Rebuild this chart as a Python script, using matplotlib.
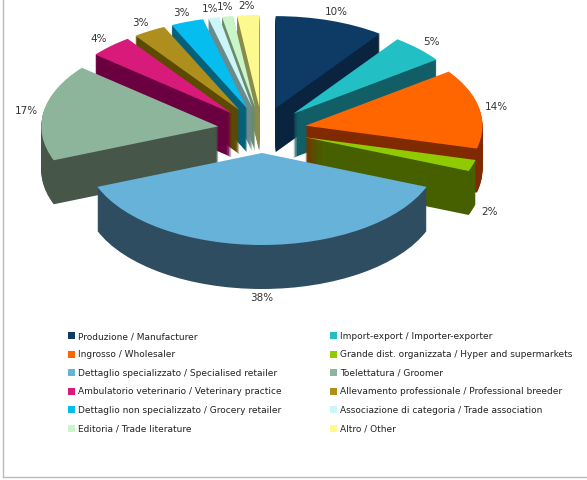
import matplotlib
matplotlib.use('Agg')
import matplotlib.pyplot as plt
from matplotlib.patches import Patch
from matplotlib.lines import Line2D
import numpy as np

categories = [
    "Produzione / Manufacturer",
    "Import-export / Importer-exporter",
    "Ingrosso / Wholesaler",
    "Grande dist. organizzata / Hyper and supermarkets",
    "Dettaglio specializzato / Specialised retailer",
    "Toelettatura / Groomer",
    "Ambulatorio veterinario / Veterinary practice",
    "Allevamento professionale / Professional breeder",
    "Dettaglio non specializzato / Grocery retailer",
    "Associazione di categoria / Trade association",
    "Editoria / Trade literature",
    "Altro / Other",
]
values = [10, 5, 14, 2, 38, 17, 4, 3, 3, 1, 1, 2]
top_colors = ["#0E3B66", "#22C0C4", "#FF6600", "#8FCB00", "#66B2D9", "#8DB59B",
              "#D81B7A", "#AE8E1C", "#06BDEF", "#CCF5F7", "#C9F5C9", "#FCF98E"]
side_colors = ["#0A2440", "#115E66", "#7F2A00", "#466000", "#2F4D60", "#465648",
               "#6B0040", "#5C4A00", "#05607A", "#6B8A8C", "#6B8A6B", "#8A8A4A"]

W, H = 587, 480
CX, CY = 262, 130      # pie centre in px (from left / top)
RX, RY = 177, 92       # ellipse radii in px
DEPTH_PX = 44
EXPLODE = 0.25
LABEL_R = 1.1

fig = plt.figure(figsize=(W / 100, H / 100), dpi=100)
ax = fig.add_axes([0, 0, 1, 1])
depth = DEPTH_PX / RY
n_layers = 44
explode = [EXPLODE] * len(values)

layers = []
for k in range(n_layers, 0, -1):
    wedges, _ = ax.pie(values, colors=side_colors, startangle=90, counterclock=False,
                       explode=explode, center=(0, -depth * k / n_layers),
                       wedgeprops=dict(linewidth=0))
    layers.append(wedges)
top_wedges, _ = ax.pie(values, colors=top_colors, startangle=90, counterclock=False,
                       explode=explode, wedgeprops=dict(linewidth=0))

thetas = np.array([np.deg2rad((w.theta1 + w.theta2) / 2) for w in top_wedges])
order = np.argsort(-np.sin(thetas))
rank = np.empty(len(values), dtype=int)
rank[order] = np.arange(len(values))
for wedges in layers:
    for i, w in enumerate(wedges):
        w.set_zorder(2 + rank[i])
for i, w in enumerate(top_wedges):
    w.set_zorder(2 + rank[i] + 0.5)

for i, w in enumerate(top_wedges):
    t = thetas[i]
    x0, y0 = w.center
    x = x0 + LABEL_R * np.cos(t)
    y = y0 + LABEL_R * np.sin(t)
    if np.sin(t) < -0.1:
        y -= depth
    ax.text(x, y, f"{values[i]}%", ha='center', va='center', fontsize=7.5,
            color='#333333', zorder=30)

ax.set_aspect('auto')
ax.set_xlim(-CX / RX, (W - CX) / RX)
ax.set_ylim(-(H - CY) / RY, CY / RY)
ax.axis('off')

def make_legend(idx, x_px):
    handles = [Patch(facecolor=top_colors[i], edgecolor='none') for i in idx]
    labels = [categories[i] for i in idx]
    return fig.legend(handles, labels, loc='upper left',
                      bbox_to_anchor=(x_px / W, 1 - 332 / H), frameon=False,
                      fontsize=6.5, handlelength=0.8, handleheight=0.8,
                      handletextpad=0.35, labelspacing=1.05, borderaxespad=0,
                      borderpad=0, labelcolor='#222222')

make_legend(list(range(0, 12, 2)), 68)
make_legend(list(range(1, 12, 2)), 330)

fig.add_artist(Line2D([2.5 / W, 2.5 / W], [1, 1 - 477 / H], transform=fig.transFigure,
                      color='#BBBBBB', lw=1))
fig.add_artist(Line2D([2.5 / W, 1], [1 - 477 / H, 1 - 477 / H], transform=fig.transFigure,
                      color='#BBBBBB', lw=1))

fig.savefig('out.png', dpi=100)
